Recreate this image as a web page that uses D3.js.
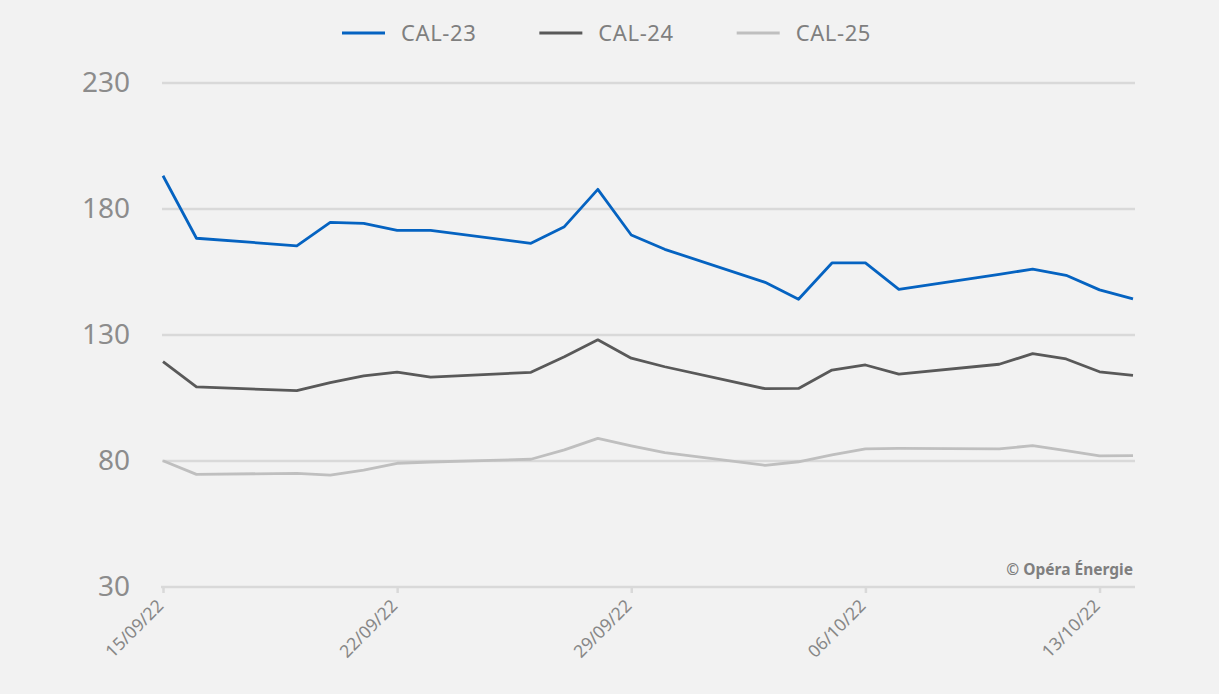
<!DOCTYPE html>
<html>
<head>
<meta charset="utf-8">
<script src="https://cdn.jsdelivr.net/npm/d3@7.9.0/dist/d3.min.js"></script>
<style>
  html, body { margin: 0; padding: 0; background: #f2f2f2; }
  svg { display: block; font-family: "Noto Sans", "Open Sans", sans-serif; }
</style>
</head>
<body>
<svg id="chart" width="1219" height="694"></svg>
<script>
// trading days (dd/mm/yy)
const dates = ['15/09/22','16/09/22','19/09/22','20/09/22','21/09/22','22/09/22','23/09/22',
  '26/09/22','27/09/22','28/09/22','29/09/22','30/09/22','03/10/22','04/10/22','05/10/22',
  '06/10/22','07/10/22','10/10/22','11/10/22','12/10/22','13/10/22','14/10/22'];

const cal23 = [193.2,168.4,165.4,174.7,174.3,171.5,171.5,166.4,173.0,187.8,169.7,164.0,
  150.9,144.2,158.6,158.6,148.1,154.1,156.1,153.7,147.9,144.3];
const cal24 = [119.4,109.4,107.9,111.1,113.8,115.3,113.3,115.2,121.4,128.1,120.8,117.4,
  108.7,108.8,116.1,118.1,114.5,118.4,122.6,120.5,115.4,114.0];
const cal25 = [80.1,74.7,75.1,74.4,76.4,79.1,79.6,80.7,84.4,89.0,86.0,83.3,
  78.3,79.7,82.4,84.8,85.0,84.8,86.1,84.1,82.0,82.1];

const seriesNames = ['CAL-23', 'CAL-24', 'CAL-25'];
const seriesColors = ['#0563c1', '#595959', '#bfbfbf'];
const yTicks = [30, 80, 130, 180, 230];
const xTickLabels = ['15/09/22', '22/09/22', '29/09/22', '06/10/22', '13/10/22'];

const parse = d3.utcParse('%d/%m/%y');
const fmt = d3.utcFormat('%d/%m/%y');
const svg = d3.select('#chart');

const x = d3.scaleUtc()
  .domain([parse(dates[0]), parse(dates[dates.length - 1])])
  .range([163, 1133]);
const y = d3.scaleLinear().domain([30, 230]).range([587, 83]);

// gridlines
svg.append('g')
  .selectAll('line')
  .data(yTicks.filter(d => d !== 30))
  .join('line')
  .attr('x1', 162).attr('x2', 1135)
  .attr('y1', d => y(d)).attr('y2', d => y(d))
  .attr('stroke', '#d9d9d9').attr('stroke-width', 2.5);

// y labels
svg.append('g')
  .selectAll('text')
  .data(yTicks)
  .join('text')
  .attr('x', 130).attr('y', d => y(d))
  .attr('dy', '0.33em')
  .attr('text-anchor', 'end')
  .attr('fill', '#8c8c8c')
  .attr('font-size', 28)
  .text(d => d);

// x axis
const xAxis = svg.append('g')
  .attr('transform', `translate(0,${y(30)})`)
  .call(d3.axisBottom(x)
    .tickValues(xTickLabels.map(parse))
    .tickSize(6)
    .tickSizeOuter(0)
    .tickFormat(fmt));
xAxis.select('.domain').remove();
xAxis.insert('line', ':first-child')
  .attr('x1', 161).attr('x2', 1135)
  .attr('stroke', '#d9d9d9').attr('stroke-width', 2.5);
xAxis.selectAll('.tick line').attr('stroke', '#d9d9d9').attr('stroke-width', 2.5);
xAxis.selectAll('.tick text')
  .attr('fill', '#878787')
  .attr('font-size', 17.5)
  .attr('font-family', '"Noto Sans", sans-serif')
  .attr('text-anchor', 'end')
  .attr('dy', null)
  .attr('y', 0)
  .attr('transform', 'translate(1,20) rotate(-45)');

// lines
const line = d3.line()
  .x((d, i) => x(parse(dates[i])))
  .y(d => y(d));

[cal23, cal24, cal25].forEach((vals, i) => {
  svg.append('path')
    .datum(vals)
    .attr('d', line)
    .attr('fill', 'none')
    .attr('stroke', seriesColors[i])
    .attr('stroke-width', 2.8)
    .attr('stroke-linejoin', 'round');
});

// legend
const legend = svg.append('g');
let lx = 342;
seriesNames.forEach((name, i) => {
  const g = legend.append('g').attr('transform', `translate(${lx},33)`);
  g.append('line').attr('x1', 0).attr('x2', 43)
    .attr('stroke', seriesColors[i]).attr('stroke-width', 3);
  const t = g.append('text')
    .attr('x', 59).attr('dy', '0.36em')
    .attr('fill', '#7f7f7f')
    .attr('font-size', 22)
    .attr('letter-spacing', 0.6)
    .text(name);
  lx += 59 + t.node().getComputedTextLength() + 63;
});

// source
svg.append('text')
  .attr('x', 1133).attr('y', 575)
  .attr('text-anchor', 'end')
  .attr('fill', '#7f7f7f')
  .attr('font-size', 15.5)
  .attr('font-weight', 'bold')
  .text('© Opéra Énergie');
</script>
</body>
</html>
